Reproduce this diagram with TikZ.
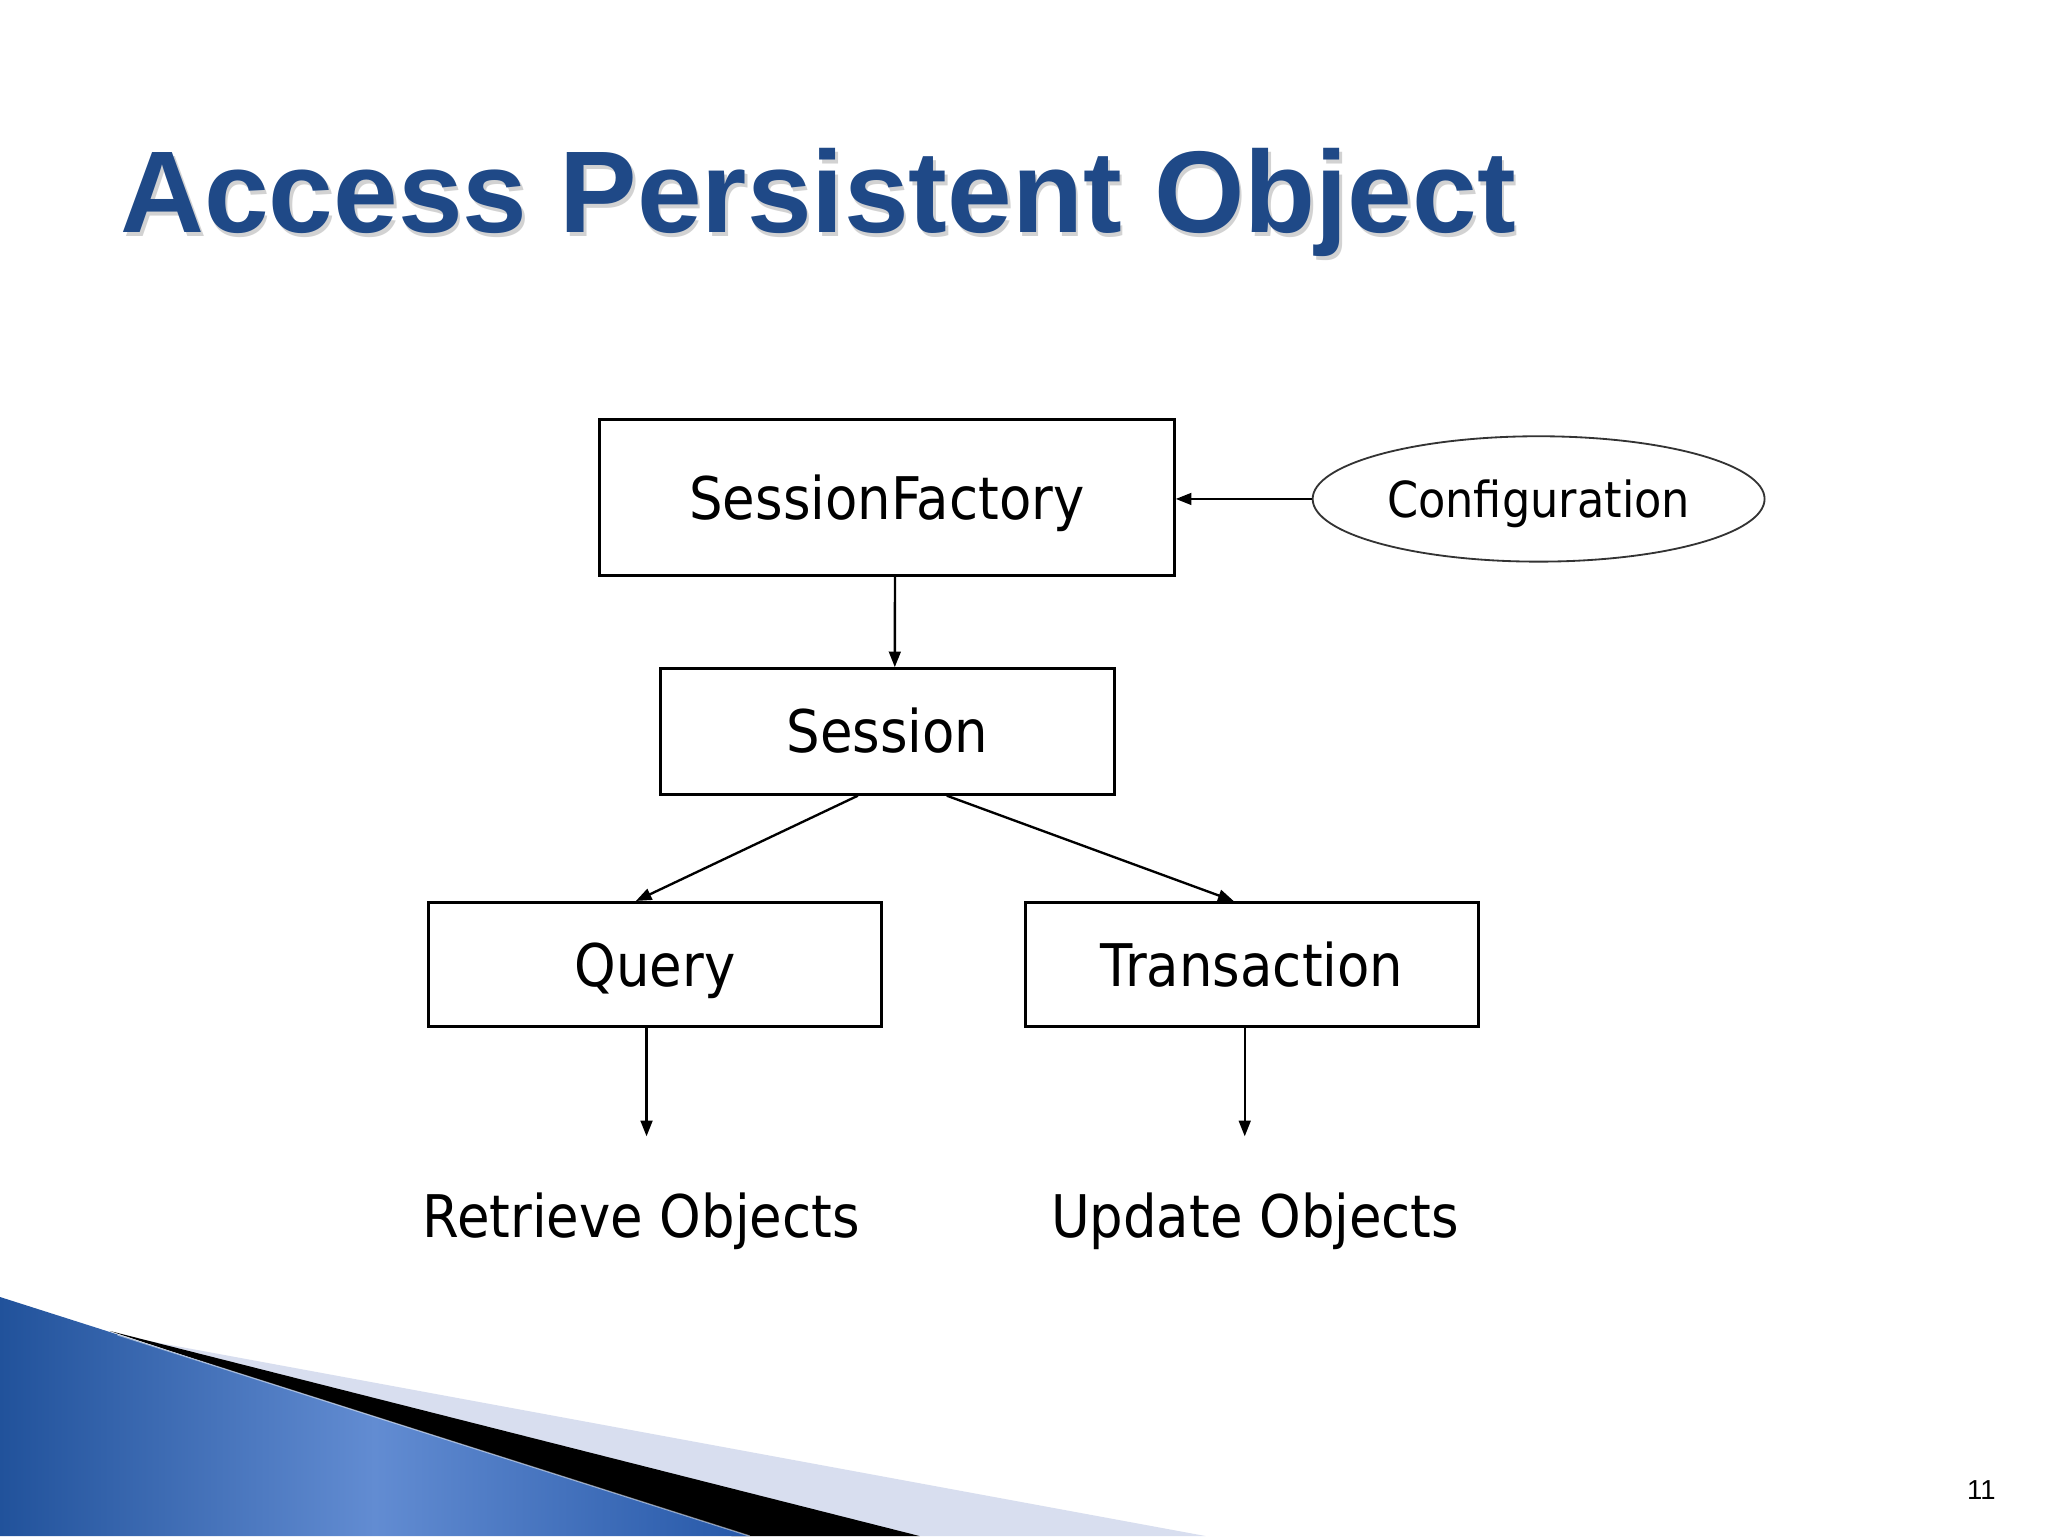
\documentclass[tikz,border=0pt]{standalone}
\usepackage{fontspec}
\setmainfont{Liberation Sans}
\newfontfamily\diagfont[FakeStretch=0.9]{DejaVu Sans}
\usetikzlibrary{arrows.meta,shapes.geometric,calc}
\definecolor{titleblue}{RGB}{31,73,135}
\definecolor{bandlight}{RGB}{216,222,239}
\definecolor{blueleft}{RGB}{33,82,155}
\definecolor{bluemid}{RGB}{98,140,210}
\definecolor{blueright}{RGB}{38,88,168}
\tikzset{
  box/.style={draw=black, line width=2.4pt, rectangle, minimum width=347pt, minimum height=95pt,
    inner sep=0pt, font=\diagfont\fontsize{45}{54}\selectfont, text height=33pt, text depth=0pt},
  lbl/.style={inner sep=0pt, font=\diagfont\fontsize{45}{54}\selectfont, text height=33pt, text depth=0pt},
  conn/.style={draw=black, line width=1.8pt, -{Triangle[length=12pt,width=9pt]}},
}
\begin{document}
\begin{tikzpicture}[x=1pt,y=-1pt]
\useasboundingbox (0,0) rectangle (1568,1176);
\fill[white] (0,0) rectangle (1568,1176);
% bottom-left decoration
\fill[bandlight] (110,1026) -- (923,1176) -- (560,1176) -- cycle;
\fill[black] (84,1019) -- (704,1176) -- (560,1176) -- cycle;
\shade[left color=blueleft, right color=blueright, middle color=bluemid]
  (0,993) -- (574,1176) -- (0,1176) -- cycle;
\draw[white, opacity=0.5, line width=1pt] (90,1022) -- (574,1176);
% title
\node[anchor=base west, inner sep=0pt, text=black!35, opacity=0.5,
  font=\bfseries\fontsize{89}{100}\selectfont] (titleshadow) at (94,181) {Access Persistent Object};
\node[anchor=base west, inner sep=0pt, text=titleblue,
  font=\bfseries\fontsize{89}{100}\selectfont] (title) at (92,178) {Access Persistent Object};
% page number
\node[inner sep=0pt, anchor=base, font=\fontsize{21}{24}\selectfont] (pagenum) at (1517,1148) {11};
% diagram
\node[box, minimum width=440pt, minimum height=119pt] (sf) at (679,381) {SessionFactory};
\node[draw=black!80, line width=1.4pt, ellipse, minimum width=346pt, minimum height=96pt, inner sep=0pt,
  font=\diagfont\fontsize{38}{46}\selectfont, text height=28pt, text depth=0pt] (config) at (1178,382) {Configuration};
\node[box, minimum height=96pt] (sess) at (679.5,560) {Session};
\node[box] (query) at (501.5,738.5) {Query};
\node[box] (trans) at (958.5,738.5) {Transaction};
\node[lbl] (retrieve) at (491,931) {Retrieve Objects};
\node[lbl] (update) at (961,931) {Update Objects};
\coordinate (qend) at (495,870);
\coordinate (tend) at (953,870);
% connectors
\draw[conn] (config.west) -- (config.west -| sf.east);
\draw[conn] ($(sf.south west)!0.514!(sf.south east)$) -- ($(sess.north west)!0.516!(sess.north east)$);
\draw[conn] ($(sess.south west)!0.435!(sess.south east)$) -- ($(query.north west)!0.458!(query.north east)$);
\draw[conn] ($(sess.south west)!0.63!(sess.south east)$) -- ($(trans.north west)!0.46!(trans.north east)$);
\draw[conn] (query.south -| qend) -- (qend);
\draw[conn] (trans.south -| tend) -- (tend);
\end{tikzpicture}
\end{document}
